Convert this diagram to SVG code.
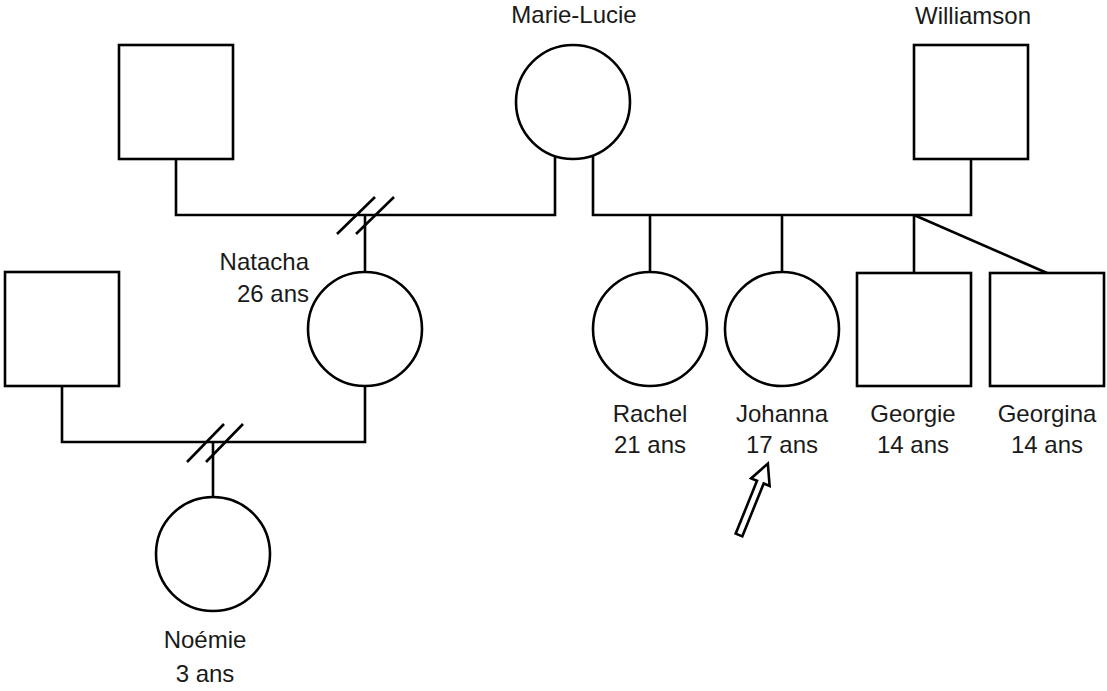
<svg xmlns="http://www.w3.org/2000/svg" width="1107" height="691" viewBox="0 0 1107 691">
<style>
.s{fill:#fff;stroke:#000;stroke-width:2.6}
.l{fill:none;stroke:#000;stroke-width:2.6}
text{font-family:"Liberation Sans",Arial,sans-serif;font-size:24px;fill:#1a1a1a;text-anchor:middle}
</style>
<rect width="1107" height="691" fill="#fff"/>
<g id="connectors" class="l">
<polyline points="176,159 176,215 555,215 555,156"/>
<polyline points="593,156 593,215 971,215 971,159"/>
<line x1="365" y1="215" x2="365" y2="272"/>
<line x1="337" y1="234" x2="375" y2="197"/>
<line x1="356" y1="234" x2="394" y2="197"/>
<polyline points="62,386 62,442 365,442 365,386"/>
<line x1="213" y1="442" x2="213" y2="497"/>
<line x1="187" y1="462" x2="224" y2="424"/>
<line x1="206" y1="462" x2="243" y2="424"/>
<line x1="650" y1="215" x2="650" y2="272"/>
<line x1="782" y1="215" x2="782" y2="272"/>
<line x1="914" y1="215" x2="914" y2="273"/>
<line x1="914" y1="215" x2="1047" y2="273"/>
</g>
<g id="unknown-father"><rect class="s" x="119" y="45" width="114" height="114"/></g>
<g id="marie-lucie"><circle class="s" cx="573" cy="102" r="57"/><text x="574" y="23">Marie-Lucie</text></g>
<g id="williamson"><rect class="s" x="914" y="45" width="114" height="114"/><text x="973" y="24">Williamson</text></g>
<g id="natacha"><circle class="s" cx="365" cy="329" r="57"/><text x="309" y="270" style="text-anchor:end">Natacha</text><text x="309" y="302" style="text-anchor:end">26 ans</text></g>
<g id="noemie-father"><rect class="s" x="5" y="272" width="114" height="114"/></g>
<g id="noemie"><circle class="s" cx="213" cy="554" r="57"/><text x="205" y="648">Noémie</text><text x="205" y="682">3 ans</text></g>
<g id="rachel"><circle class="s" cx="650" cy="329" r="57"/><text x="650" y="422">Rachel</text><text x="650" y="453">21 ans</text></g>
<g id="johanna"><circle class="s" cx="782" cy="329" r="57"/><text x="782" y="422">Johanna</text><text x="782" y="453">17 ans</text></g>
<g id="georgie"><rect class="s" x="857" y="273" width="114" height="113"/><text x="913" y="422">Georgie</text><text x="913" y="453">14 ans</text></g>
<g id="georgina"><rect class="s" x="990" y="273" width="114" height="113"/><text x="1047" y="422">Georgina</text><text x="1047" y="453">14 ans</text></g>
<g id="proband-arrow"><polygon class="s" stroke-width="2" stroke-linejoin="miter" transform="translate(739,535) rotate(22)" points="-3.6,0 3.6,0 3.6,-57 10,-57 0,-77 -10,-57 -3.6,-57"/></g>
</svg>
